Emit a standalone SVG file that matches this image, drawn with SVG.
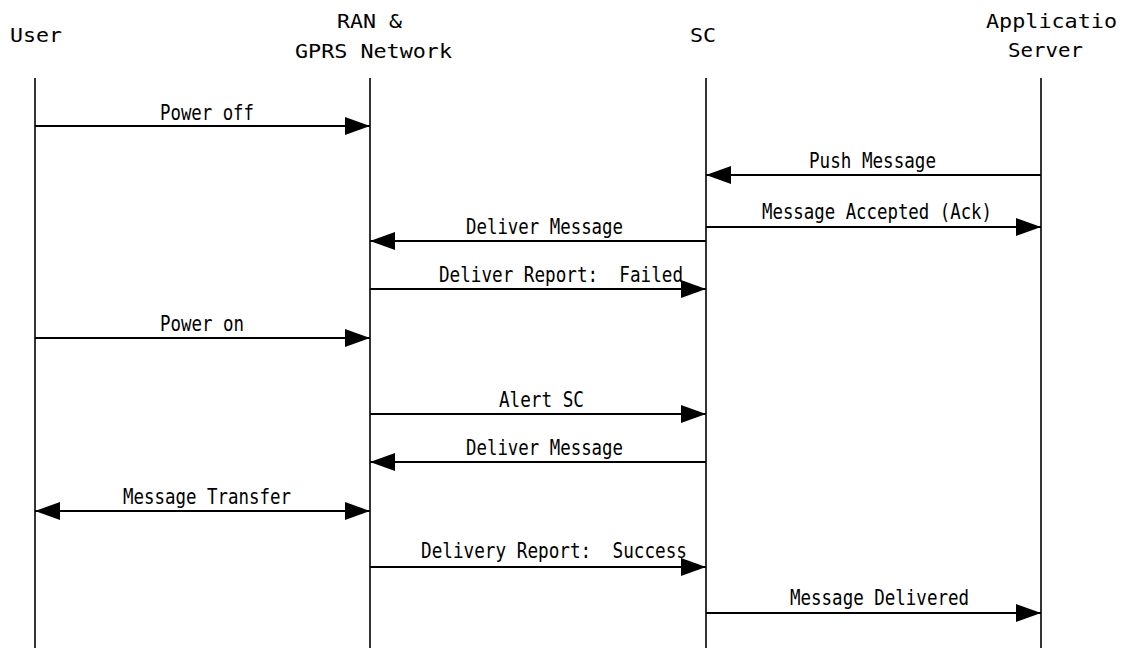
<svg xmlns="http://www.w3.org/2000/svg" width="1124" height="648" viewBox="0 0 1124 648">
<style>
.hd{font-family:"DejaVu Sans Mono","Liberation Mono",monospace;font-size:20px;fill:#000}
.lb{font-family:"DejaVu Sans Mono","Liberation Mono",monospace;font-size:21px;fill:#000}
.life{stroke:#000;stroke-width:1.6;fill:none}
.msg{stroke:#000;stroke-width:2;fill:none}
</style>
<defs>
<marker id="ah" viewBox="0 0 25 18" refX="25" refY="9" markerWidth="25" markerHeight="18" markerUnits="userSpaceOnUse" orient="auto-start-reverse">
<path d="M0,0 L25,9 L0,18 z" fill="#000"/>
</marker>
</defs>
<rect width="1124" height="648" fill="#fff"/>
<g id="user">
<text class="hd" x="10" y="42" textLength="52" lengthAdjust="spacingAndGlyphs">User</text>
<line class="life" x1="35" y1="78" x2="35" y2="648"/>
</g>
<g id="ran">
<text class="hd" x="337" y="28" textLength="65" lengthAdjust="spacingAndGlyphs">RAN &amp;</text>
<text class="hd" x="295" y="58" textLength="157" lengthAdjust="spacingAndGlyphs">GPRS Network</text>
<line class="life" x1="370" y1="78" x2="370" y2="648"/>
</g>
<g id="sc">
<text class="hd" x="690" y="42" textLength="26" lengthAdjust="spacingAndGlyphs">SC</text>
<line class="life" x1="706" y1="78" x2="706" y2="648"/>
</g>
<g id="app">
<text class="hd" x="986" y="28" textLength="131" lengthAdjust="spacingAndGlyphs">Applicatio</text>
<text class="hd" x="1008" y="57" textLength="75" lengthAdjust="spacingAndGlyphs">Server</text>
<line class="life" x1="1041" y1="78" x2="1041" y2="648"/>
</g>
<g id="connectors">
<line class="msg" x1="35" y1="126" x2="370" y2="126" marker-end="url(#ah)"/>
<text class="lb" x="160" y="120" textLength="94" lengthAdjust="spacingAndGlyphs">Power off</text>
<line class="msg" x1="1041" y1="175" x2="706" y2="175" marker-end="url(#ah)"/>
<text class="lb" x="809" y="168" textLength="127" lengthAdjust="spacingAndGlyphs">Push Message</text>
<line class="msg" x1="706" y1="227" x2="1041" y2="227" marker-end="url(#ah)"/>
<text class="lb" x="762" y="219" textLength="230" lengthAdjust="spacingAndGlyphs">Message Accepted (Ack)</text>
<line class="msg" x1="706" y1="241" x2="370" y2="241" marker-end="url(#ah)"/>
<text class="lb" x="466" y="234" textLength="157" lengthAdjust="spacingAndGlyphs">Deliver Message</text>
<line class="msg" x1="370" y1="289" x2="706" y2="289" marker-end="url(#ah)"/>
<text class="lb" x="439" y="282" textLength="244" lengthAdjust="spacingAndGlyphs" xml:space="preserve">Deliver Report:  Failed</text>
<line class="msg" x1="35" y1="338" x2="370" y2="338" marker-end="url(#ah)"/>
<text class="lb" x="160" y="331" textLength="84" lengthAdjust="spacingAndGlyphs">Power on</text>
<line class="msg" x1="370" y1="414" x2="706" y2="414" marker-end="url(#ah)"/>
<text class="lb" x="499" y="407" textLength="85" lengthAdjust="spacingAndGlyphs">Alert SC</text>
<line class="msg" x1="706" y1="462" x2="370" y2="462" marker-end="url(#ah)"/>
<text class="lb" x="466" y="455" textLength="157" lengthAdjust="spacingAndGlyphs">Deliver Message</text>
<line class="msg" x1="35" y1="511" x2="370" y2="511" marker-start="url(#ah)" marker-end="url(#ah)"/>
<text class="lb" x="123" y="504" textLength="168" lengthAdjust="spacingAndGlyphs">Message Transfer</text>
<line class="msg" x1="370" y1="567" x2="706" y2="567" marker-end="url(#ah)"/>
<text class="lb" x="421" y="558" textLength="266" lengthAdjust="spacingAndGlyphs" xml:space="preserve">Delivery Report:  Success</text>
<line class="msg" x1="706" y1="613" x2="1041" y2="613" marker-end="url(#ah)"/>
<text class="lb" x="790" y="605" textLength="179" lengthAdjust="spacingAndGlyphs">Message Delivered</text>
</g>
</svg>
